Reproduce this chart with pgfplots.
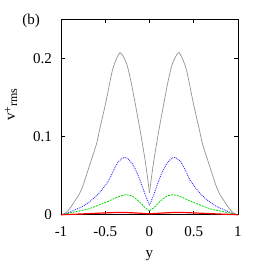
\documentclass[border=0pt]{standalone}
\usepackage{pgfplots}
\pgfplotsset{compat=1.18}
\usepackage{fontspec}
\setmainfont{Liberation Serif}
\begin{document}
\begin{tikzpicture}[font=\fontsize{15}{17}\selectfont]
\begin{axis}[
  name=ax, at={(0,0)}, anchor=south west,
  scale only axis, width=177pt, height=195.7pt,
  xmin=-1, xmax=1, ymin=0, ymax=0.25,
  xtick={-1,-0.5,0,0.5,1}, xticklabels={-1,-0.5,0,0.5,1},
  ytick={0,0.1,0.2}, yticklabels={0,0.1,0.2},
  tick align=inside, major tick length=4pt,
  tick style={black, line width=0.5pt},
  axis line style={line width=0.6pt},
  tick label style={font=\fontsize{15}{17}\selectfont},
  label style={font=\fontsize{15}{17}\selectfont},
  xticklabel style={anchor=center, yshift=-17.3pt},
  yticklabel style={anchor=east, inner sep=0pt, xshift=-9pt},
  xlabel={y}, ylabel={v\raisebox{0.45ex}{\fontsize{12}{12}\selectfont +}\raisebox{-0.35ex}{\fontsize{12}{12}\selectfont rms}},
  xlabel style={at={(rel axis cs:0.5,0)}, anchor=center, yshift=-41.3pt},
  ylabel style={at={(rel axis cs:-0.282,0.563)}, anchor=center, rotate=0},
  clip=false,
]
\addplot[gray!85, line width=0.7pt, smooth, tension=0.35] coordinates {
(-1,0) (-0.95,0.002) (-0.9,0.008) (-0.8,0.025) (-0.755,0.036) (-0.7,0.055) (-0.6,0.09) (-0.563,0.109) (-0.5,0.14) (-0.42,0.184) (-0.37,0.200) (-0.333,0.207) (-0.3,0.203) (-0.25,0.19) (-0.2,0.165) (-0.15,0.135) (-0.1,0.104) (-0.05,0.07) (-0.025,0.05) (0,0.028)};
\addplot[gray!85, line width=0.7pt, smooth, tension=0.35] coordinates {
(0,0.028) (0.025,0.05) (0.05,0.07) (0.1,0.104) (0.15,0.135) (0.2,0.165) (0.25,0.19) (0.3,0.203) (0.333,0.207) (0.37,0.200) (0.42,0.184) (0.5,0.14) (0.563,0.109) (0.6,0.09) (0.7,0.055) (0.755,0.036) (0.8,0.025) (0.9,0.008) (0.95,0.002) (1,0)
};
\addplot[blue!80, densely dotted, line width=0.9pt, smooth, tension=0.35] coordinates {
(-1,0) (-0.95,0.001) (-0.87,0.005) (-0.75,0.011) (-0.65,0.019) (-0.55,0.030) (-0.46,0.044) (-0.4,0.058) (-0.35,0.068) (-0.29,0.073) (-0.25,0.072) (-0.2,0.066) (-0.15,0.056) (-0.1,0.042) (-0.05,0.026) (0,0.012)};
\addplot[blue!80, densely dotted, line width=0.9pt, smooth, tension=0.35] coordinates {
(0,0.012) (0.05,0.026) (0.1,0.042) (0.15,0.056) (0.2,0.066) (0.25,0.072) (0.29,0.073) (0.35,0.068) (0.4,0.058) (0.46,0.044) (0.55,0.030) (0.65,0.019) (0.75,0.011) (0.87,0.005) (0.95,0.001) (1,0)
};
\addplot[green!85!black, dash pattern=on 2pt off 1pt, line width=0.8pt, smooth, tension=0.35] coordinates {
(-1,0) (-0.95,0.001) (-0.83,0.004) (-0.7,0.007) (-0.57,0.0124) (-0.45,0.018) (-0.35,0.023) (-0.27,0.0255) (-0.2,0.024) (-0.15,0.020) (-0.1,0.015) (-0.05,0.009) (0,0.005)};
\addplot[green!85!black, dash pattern=on 2pt off 1pt, line width=0.8pt, smooth, tension=0.35] coordinates {
(0,0.005) (0.05,0.009) (0.1,0.015) (0.15,0.020) (0.2,0.024) (0.27,0.0255) (0.35,0.023) (0.45,0.018) (0.57,0.0124) (0.7,0.007) (0.83,0.004) (0.95,0.001) (1,0)
};
\addplot[red, line width=1.2pt, smooth] coordinates {
(-1,0) (-0.8,0.0008) (-0.6,0.0018) (-0.4,0.0027) (-0.3,0.0028) (-0.2,0.0025) (-0.1,0.0018) (0,0.0012)
(0.1,0.0018) (0.2,0.0025) (0.3,0.0028) (0.4,0.0027) (0.6,0.0018) (0.8,0.0008) (1,0)
};
\node at (rel axis cs:-0.169,0.992) {(b)};
\end{axis}
\path[use as bounding box] (-61pt,-51.3pt) rectangle (205pt,214.7pt);
\end{tikzpicture}
\end{document}
